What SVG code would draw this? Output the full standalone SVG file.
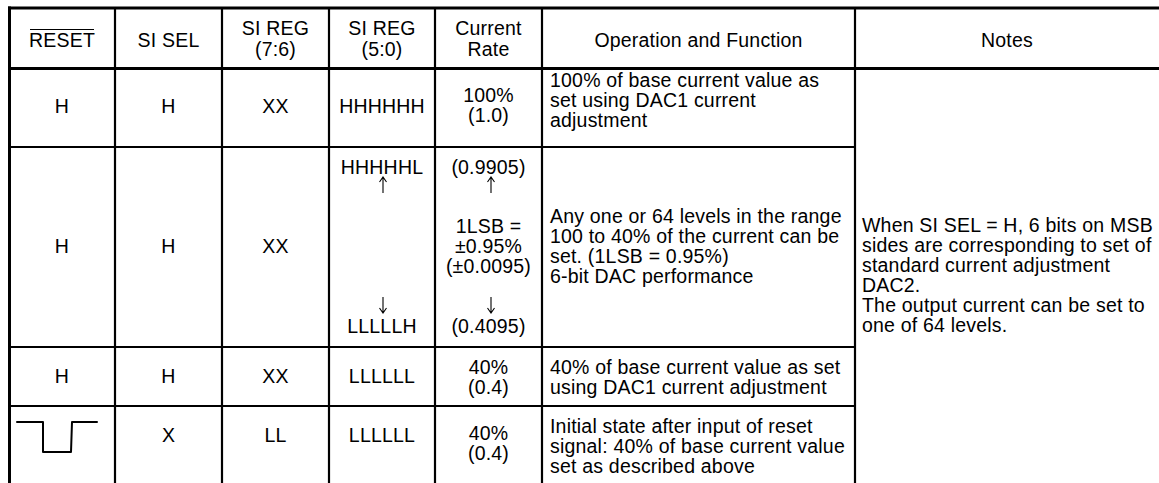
<svg xmlns="http://www.w3.org/2000/svg" width="1159" height="483" viewBox="0 0 1159 483">
  <style>
    text { font-family: "Liberation Sans", Arial, sans-serif; font-size: 19.5px; letter-spacing: 0.2px; fill: #000; }
    .c { text-anchor: middle; }
    .thick { stroke: #000; stroke-width: 3; fill: none; }
    .thin { stroke: #000; stroke-width: 2.2; fill: none; }
    .wave { stroke: #000; stroke-width: 2; fill: none; stroke-linejoin: round; stroke-linecap: round; }
    .arr { stroke: #000; stroke-width: 1.1; fill: none; }
  </style>
  <defs>
    <!-- thin range arrow pointing up; flipped for the downward one -->
    <path id="upArrow" class="arr" d="M0,0 V16 M-3.5,5 L0,0 L3.5,5"/>
  </defs>
  <rect width="1159" height="483" fill="#fff"/>

  <!-- table rules -->
  <g id="grid">
    <line class="thick" x1="8" y1="8" x2="1159" y2="8"/>
    <line class="thick" x1="9.5" y1="6.5" x2="9.5" y2="483"/>
    <line class="thick" x1="8" y1="68.5" x2="1159" y2="68.5"/>
    <line class="thin" x1="115" y1="8" x2="115" y2="483"/>
    <line class="thin" x1="222" y1="8" x2="222" y2="483"/>
    <line class="thin" x1="329" y1="8" x2="329" y2="483"/>
    <line class="thin" x1="435" y1="8" x2="435" y2="483"/>
    <line class="thin" x1="542" y1="8" x2="542" y2="483"/>
    <line class="thin" x1="855" y1="8" x2="855" y2="483"/>
    <line class="thin" x1="9" y1="147" x2="855" y2="147"/>
    <line class="thin" x1="9" y1="347" x2="855" y2="347"/>
    <line class="thin" x1="9" y1="406" x2="855" y2="406"/>
  </g>

  <!-- header row -->
  <g id="header">
    <text class="c" x="62" y="47">RESET</text>
    <line x1="30" y1="29.5" x2="94" y2="29.5" stroke="#000" stroke-width="1.2"/>
    <text class="c" x="168.5" y="47">SI SEL</text>
    <text class="c" x="275.5" y="35">SI REG</text>
    <text class="c" x="275.5" y="56">(7:6)</text>
    <text class="c" x="382" y="35">SI REG</text>
    <text class="c" x="382" y="56">(5:0)</text>
    <text class="c" x="488.5" y="35">Current</text>
    <text class="c" x="488.5" y="56">Rate</text>
    <text class="c" x="698.5" y="47">Operation and Function</text>
    <text class="c" x="1007" y="47">Notes</text>
  </g>

  <!-- row 1: full scale -->
  <g id="row1">
    <text class="c" x="62" y="113">H</text>
    <text class="c" x="168.5" y="113">H</text>
    <text class="c" x="275.5" y="113">XX</text>
    <text class="c" x="382" y="113">HHHHHH</text>
    <text class="c" x="488.5" y="102">100%</text>
    <text class="c" x="488.5" y="122">(1.0)</text>
    <text x="550" y="87">100% of base current value as</text>
    <text x="550" y="107">set using DAC1 current</text>
    <text x="550" y="127">adjustment</text>
  </g>

  <!-- row 2: adjustable range -->
  <g id="row2">
    <text class="c" x="62" y="253">H</text>
    <text class="c" x="168.5" y="253">H</text>
    <text class="c" x="275.5" y="253">XX</text>
    <text class="c" x="382" y="174">HHHHHL</text>
    <use href="#upArrow" x="383" y="177"/>
    <use href="#upArrow" transform="translate(383,313) scale(1,-1)"/>
    <text class="c" x="382" y="333">LLLLLH</text>
    <text class="c" x="488.5" y="174">(0.9905)</text>
    <use href="#upArrow" x="491" y="177"/>
    <text class="c" x="488.5" y="233">1LSB =</text>
    <text class="c" x="488.5" y="253">±0.95%</text>
    <text class="c" x="488.5" y="273">(±0.0095)</text>
    <use href="#upArrow" transform="translate(491,313) scale(1,-1)"/>
    <text class="c" x="488.5" y="333">(0.4095)</text>
    <text x="550" y="223">Any one or 64 levels in the range</text>
    <text x="550" y="243">100 to 40% of the current can be</text>
    <text x="550" y="263">set. (1LSB = 0.95%)</text>
    <text x="550" y="283">6-bit DAC performance</text>
  </g>

  <!-- row 3: minimum -->
  <g id="row3">
    <text class="c" x="62" y="383">H</text>
    <text class="c" x="168.5" y="383">H</text>
    <text class="c" x="275.5" y="383">XX</text>
    <text class="c" x="382" y="383">LLLLLL</text>
    <text class="c" x="488.5" y="374">40%</text>
    <text class="c" x="488.5" y="394">(0.4)</text>
    <text x="550" y="374">40% of base current value as set</text>
    <text x="550" y="394">using DAC1 current adjustment</text>
  </g>

  <!-- row 4: reset pulse -->
  <g id="row4">
    <polyline class="wave" points="17,422 43,422 43,452 71,452 72,422 97,422"/>
    <text class="c" x="168.5" y="442">X</text>
    <text class="c" x="275.5" y="442">LL</text>
    <text class="c" x="382" y="442">LLLLLL</text>
    <text class="c" x="488.5" y="440">40%</text>
    <text class="c" x="488.5" y="460">(0.4)</text>
    <text x="550" y="433">Initial state after input of reset</text>
    <text x="550" y="453">signal: 40% of base current value</text>
    <text x="550" y="473">set as described above</text>
  </g>

  <!-- notes column -->
  <g id="notes">
    <text x="862" y="232">When SI SEL = H, 6 bits on MSB</text>
    <text x="862" y="252">sides are corresponding to set of</text>
    <text x="862" y="272">standard current adjustment</text>
    <text x="862" y="292">DAC2.</text>
    <text x="862" y="312">The output current can be set to</text>
    <text x="862" y="332">one of 64 levels.</text>
  </g>
</svg>
